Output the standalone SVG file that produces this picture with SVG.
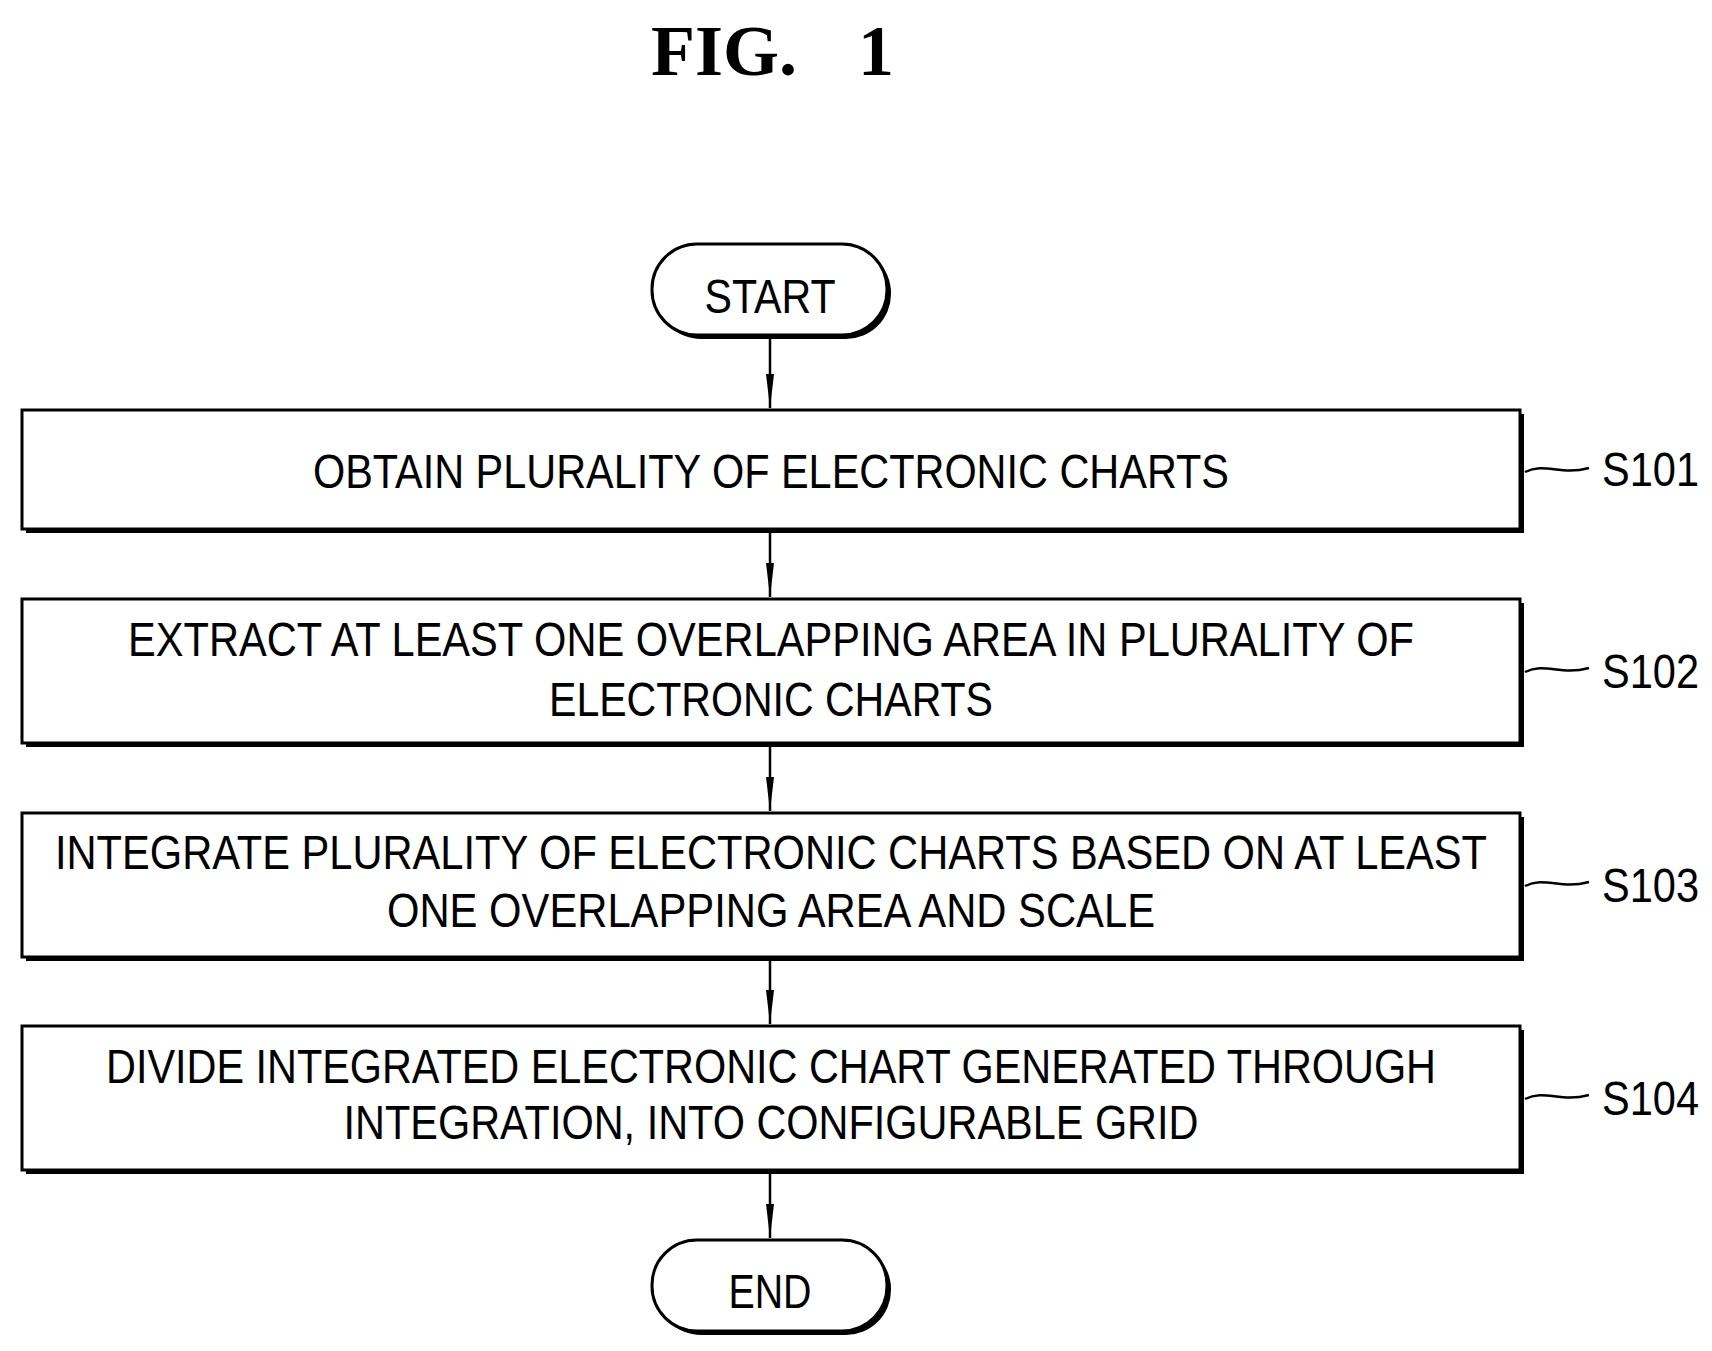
<svg xmlns="http://www.w3.org/2000/svg" width="1712" height="1351" viewBox="0 0 1712 1351">
<style>
.t{font-family:"Liberation Sans",Arial,sans-serif;font-size:48px;fill:#000}
.box{fill:#fff;stroke:#000;stroke-width:3}
.sh{fill:#000}
.ln{stroke:#000;stroke-width:2.5;fill:none}
.ti{font-family:"Liberation Serif",serif;font-size:72px;font-weight:bold}
</style>
<defs><marker id="av" viewBox="0 0 12 34" refX="6" refY="34" markerWidth="12" markerHeight="34" markerUnits="userSpaceOnUse"><path d="M2,0 L10,0 L6,34 Z" fill="#000"/></marker></defs>
<rect width="1712" height="1351" fill="#fff"/>
<text class="ti" x="724" y="75" text-anchor="middle">FIG.</text>
<text class="ti" x="876" y="75" text-anchor="middle">1</text>
<g id="connectors">
<line class="ln" x1="770" y1="335" x2="770" y2="408" marker-end="url(#av)"/>
<line class="ln" x1="770" y1="533" x2="770" y2="597" marker-end="url(#av)"/>
<line class="ln" x1="770" y1="747" x2="770" y2="811" marker-end="url(#av)"/>
<line class="ln" x1="770" y1="961" x2="770" y2="1024" marker-end="url(#av)"/>
<line class="ln" x1="770" y1="1174" x2="770" y2="1238" marker-end="url(#av)"/>
</g>
<g id="start"><rect class="sh" x="656" y="248" width="235" height="91" rx="45"/><rect class="box" x="652" y="244" width="235" height="91" rx="45"/><text class="t" x="770" y="313" text-anchor="middle" textLength="131" lengthAdjust="spacingAndGlyphs">START</text></g>
<g id="s101"><rect class="sh" x="26" y="414" width="1498" height="119"/><rect class="box" x="22" y="410" width="1498" height="119"/><text class="t" x="771" y="488" text-anchor="middle" textLength="916" lengthAdjust="spacingAndGlyphs">OBTAIN PLURALITY OF ELECTRONIC CHARTS</text>
<path class="ln" d="M1525,472 C1545,462 1560,476 1589,468"/><text class="t" x="1602" y="486" textLength="97" lengthAdjust="spacingAndGlyphs">S101</text></g>
<g id="s102"><rect class="sh" x="26" y="603" width="1498" height="144"/><rect class="box" x="22" y="599" width="1498" height="144"/><text class="t" x="771" y="656" text-anchor="middle" textLength="1286" lengthAdjust="spacingAndGlyphs">EXTRACT AT LEAST ONE OVERLAPPING AREA IN PLURALITY OF</text><text class="t" x="771" y="716" text-anchor="middle" textLength="444" lengthAdjust="spacingAndGlyphs">ELECTRONIC CHARTS</text>
<path class="ln" d="M1525,672 C1545,662 1560,676 1589,668"/><text class="t" x="1602" y="688" textLength="97" lengthAdjust="spacingAndGlyphs">S102</text></g>
<g id="s103"><rect class="sh" x="26" y="817" width="1498" height="144"/><rect class="box" x="22" y="813" width="1498" height="144"/><text class="t" x="771" y="869" text-anchor="middle" textLength="1432" lengthAdjust="spacingAndGlyphs">INTEGRATE PLURALITY OF ELECTRONIC CHARTS BASED ON AT LEAST</text><text class="t" x="771" y="927" text-anchor="middle" textLength="768" lengthAdjust="spacingAndGlyphs">ONE OVERLAPPING AREA AND SCALE</text>
<path class="ln" d="M1525,886 C1545,876 1560,890 1589,882"/><text class="t" x="1602" y="902" textLength="97" lengthAdjust="spacingAndGlyphs">S103</text></g>
<g id="s104"><rect class="sh" x="26" y="1030" width="1498" height="144"/><rect class="box" x="22" y="1026" width="1498" height="144"/><text class="t" x="771" y="1083" text-anchor="middle" textLength="1330" lengthAdjust="spacingAndGlyphs">DIVIDE INTEGRATED ELECTRONIC CHART GENERATED THROUGH</text><text class="t" x="771" y="1139" text-anchor="middle" textLength="855" lengthAdjust="spacingAndGlyphs">INTEGRATION, INTO CONFIGURABLE GRID</text>
<path class="ln" d="M1525,1099 C1545,1089 1560,1103 1589,1095"/><text class="t" x="1602" y="1115" textLength="97" lengthAdjust="spacingAndGlyphs">S104</text></g>
<g id="end"><rect class="sh" x="656" y="1244" width="235" height="91" rx="45"/><rect class="box" x="652" y="1240" width="235" height="91" rx="45"/><text class="t" x="770" y="1308" text-anchor="middle" textLength="83" lengthAdjust="spacingAndGlyphs">END</text></g>
</svg>
